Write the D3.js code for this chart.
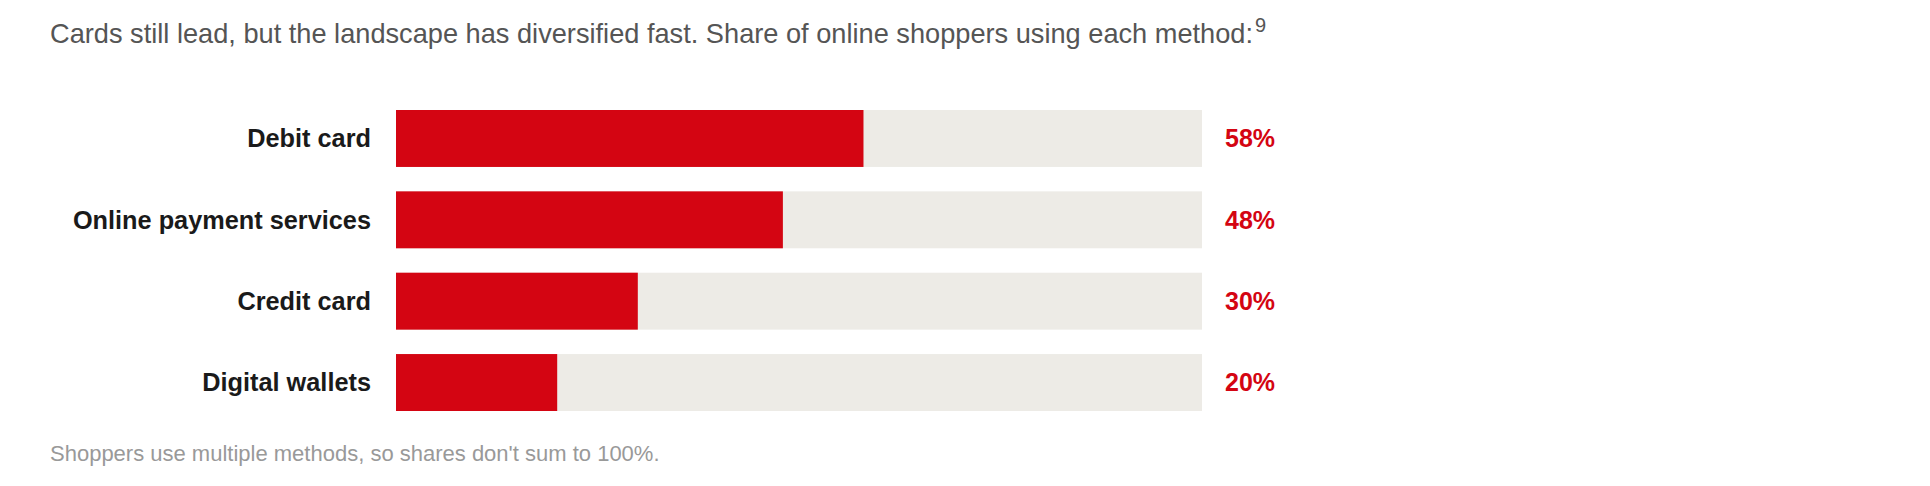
<!DOCTYPE html>
<html>
<head>
<meta charset="utf-8">
<script src="https://cdn.jsdelivr.net/npm/d3@7"></script>
<style>
    body { margin: 0; background: #fff; }
    svg text { font-family: "Liberation Sans", Arial, Helvetica, sans-serif; }
</style>
</head>
<body>
<div id="chart"></div>
<script>
// data
var methods = ["Debit card", "Online payment services", "Credit card", "Digital wallets"];
var shares = [58, 48, 30, 20];
var titleText = "Cards still lead, but the landscape has diversified fast. Share of online shoppers using each method:";
var noteRef = "9";
var footnote = "Shoppers use multiple methods, so shares don't sum to 100%.";

var svgWidth = 1930;
var svgHeight = 486;

var data = methods.map((m, i) => ({ method: m, share: shares[i] }));

var svg = d3.select("#chart")
    .append("svg")
    .attr("width", svgWidth)
    .attr("height", svgHeight);

var xScale = d3.scaleLinear()
    .domain([0, 100])
    .range([396, 1202]);

var yScale = d3.scaleBand()
    .domain(methods)
    .range([110, 411])
    .paddingInner(0.3)
    .paddingOuter(0);

// title with superscript note
var title = svg.append("text")
    .attr("x", 50)
    .attr("y", 43)
    .attr("font-size", 27.2)
    .attr("fill", "#555555")
    .text(titleText);

title.append("tspan")
    .attr("dx", 2)
    .attr("dy", -11)
    .attr("font-size", 20)
    .text(noteRef);

// grey tracks
svg.selectAll(".track")
    .data(data)
    .enter()
    .append("rect")
    .attr("class", "track")
    .attr("x", xScale(0))
    .attr("y", d => yScale(d.method))
    .attr("width", xScale(100) - xScale(0))
    .attr("height", yScale.bandwidth())
    .attr("fill", "#edebe6");

// red bars
svg.selectAll(".bar")
    .data(data)
    .enter()
    .append("rect")
    .attr("class", "bar")
    .attr("x", xScale(0))
    .attr("y", d => yScale(d.method))
    .attr("width", d => xScale(d.share) - xScale(0))
    .attr("height", yScale.bandwidth())
    .attr("fill", "#d40512");

// category labels
svg.selectAll(".label")
    .data(data)
    .enter()
    .append("text")
    .attr("class", "label")
    .attr("x", xScale(0) - 25)
    .attr("y", d => yScale(d.method) + yScale.bandwidth() / 2)
    .attr("dy", "0.35em")
    .attr("text-anchor", "end")
    .attr("font-size", 25.3)
    .attr("font-weight", "bold")
    .attr("fill", "#1a1a1a")
    .text(d => d.method);

// value labels
svg.selectAll(".value")
    .data(data)
    .enter()
    .append("text")
    .attr("class", "value")
    .attr("x", xScale(100) + 23)
    .attr("y", d => yScale(d.method) + yScale.bandwidth() / 2)
    .attr("dy", "0.35em")
    .attr("font-size", 25)
    .attr("font-weight", "bold")
    .attr("fill", "#d40512")
    .text(d => d.share + "%");

svg.append("text")
    .attr("x", 50)
    .attr("y", 461)
    .attr("font-size", 22)
    .attr("fill", "#999999")
    .text(footnote);
</script>
</body>
</html>
